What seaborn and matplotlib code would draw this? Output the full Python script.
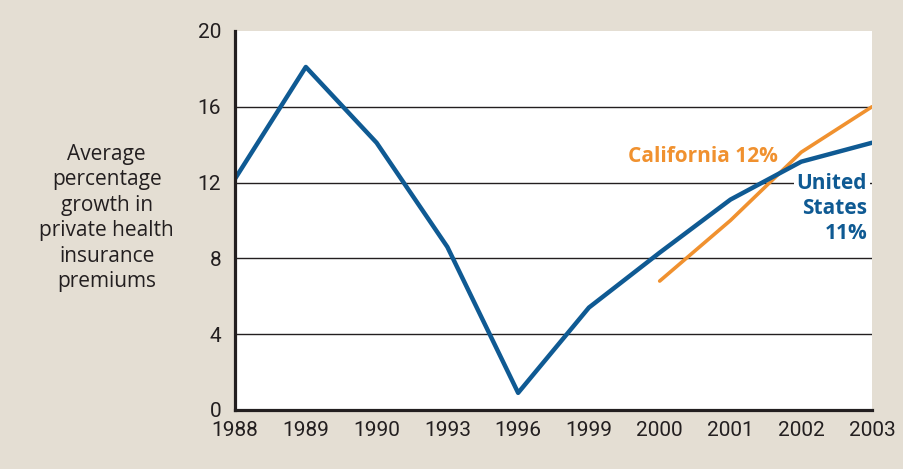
import numpy as np
import matplotlib
matplotlib.use("Agg")
import matplotlib.pyplot as plt
import seaborn as sns
import pandas as pd

years = ["1988", "1989", "1990", "1993", "1996", "1999", "2000", "2001", "2002", "2003"]
us_values = [12.2, 18.1, 14.1, 8.6, 0.9, 5.4, 8.3, 11.1, 13.1, 14.1]
ca_years = ["2000", "2001", "2002", "2003"]
ca_values = [6.8, 10.0, 13.6, 16.0]
y_ticks = [0, 4, 8, 12, 16, 20]

BG = "#e4ded3"
BLUE = "#0f5a93"
ORANGE = "#f0912f"
INK = "#231f20"

sns.set_style("white")
plt.rcParams["font.family"] = ["Open Sans", "DejaVu Sans"]

df = pd.concat([
    pd.DataFrame({"year": years, "value": us_values, "series": "United States"}),
    pd.DataFrame({"year": ca_years, "value": ca_values, "series": "California"}),
])

fig = plt.figure(figsize=(9.04, 4.69), dpi=100, facecolor=BG)
ax = fig.add_axes([0.26, 0.126, 0.7046, 0.808])
ax.set_facecolor("white")

# gridlines at inner ticks only
for v in y_ticks[1:-1]:
    ax.axhline(v, color=INK, lw=1.0, zorder=1)

sns.lineplot(data=df[df.series == "United States"], x="year", y="value",
             color=BLUE, lw=3.2, sort=False, ax=ax, zorder=4)
sns.lineplot(data=df[df.series == "California"], x="year", y="value",
             color=ORANGE, lw=2.6, sort=False, ax=ax, zorder=3)

ax.set_xlim(0, len(years) - 1)
ax.set_ylim(0, 20)
ax.set_yticks(y_ticks)
ax.set_xticks(range(len(years)))
ax.set_xticklabels(years)

cond = ["Liberation Sans Narrow", "Roboto", "DejaVu Sans"]
for lab in ax.get_xticklabels() + ax.get_yticklabels():
    lab.set_family(cond)
    lab.set_fontsize(15)
    lab.set_color(INK)

ax.tick_params(axis="x", direction="in", length=14, width=1.1, color=INK, pad=8)
ax.tick_params(axis="y", length=0, pad=10)

for side in ["top", "right"]:
    ax.spines[side].set_visible(False)
for side in ["left", "bottom"]:
    ax.spines[side].set_linewidth(2.3)
    ax.spines[side].set_color(INK)
    ax.spines[side].set_zorder(6)

ax.set_xlabel("")
ax.set_ylabel("")
fig.text(0.118, 0.535, "Average\npercentage\ngrowth in\nprivate health\ninsurance\npremiums",
         ha="center", va="center", fontsize=15, color=INK, linespacing=1.28)

ax.text(7.67, 13.4, "California 12%", ha="right", va="center",
        fontsize=15, fontweight="bold", color=ORANGE, zorder=5)
ax.text(8.93, 10.65, "United\nStates\n11%", ha="right", va="center",
        fontsize=15, fontweight="bold", color=BLUE, linespacing=1.25,
        bbox=dict(facecolor="white", edgecolor="none", pad=2), zorder=2)

fig.savefig("out.png", dpi=100, facecolor=BG)
